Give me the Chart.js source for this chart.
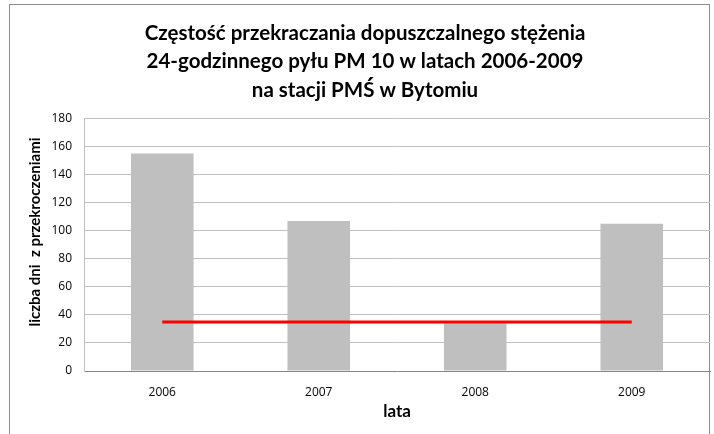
<!DOCTYPE html>
<html>
<head>
<meta charset="utf-8">
<script src="https://cdn.jsdelivr.net/npm/chart.js@4"></script>
<style>
  html, body { margin: 0; padding: 0; background: #fff; }
  #wrap { position: relative; width: 714px; height: 434px; }
  #frame { position: absolute; left: 9px; top: 4px; width: 701px; height: 440px; border: 1px solid #8c8c8c; box-sizing: border-box; }
  canvas { position: absolute; left: 0; top: 0; }
</style>
</head>
<body>
<div id="wrap">
  <div id="frame"></div>
  <canvas id="c" width="714" height="434"></canvas>
</div>
<script>
const titleLines = [
  'Częstość przekraczania dopuszczalnego stężenia',
  '24-godzinnego pyłu PM 10 w latach 2006-2009',
  'na stacji PMŚ w Bytomiu'
];
const years = ['2006', '2007', '2008', '2009'];
const exceedDays = [155, 107, 34, 105];
const limitDays = [35, 35, 35, 35];
const yTitle = '       liczba dni  z przekroczeniami';
const xTitle = 'lata';

new Chart(document.getElementById('c'), {
  data: {
    labels: years,
    datasets: [
      {
        type: 'line',
        label: 'dopuszczalna liczba dni',
        data: limitDays,
        borderColor: '#ff0000',
        borderWidth: 3,
        pointRadius: 0,
        fill: false,
        order: 0
      },
      {
        type: 'bar',
        label: 'liczba dni z przekroczeniami',
        data: exceedDays,
        backgroundColor: '#bfbfbf',
        borderWidth: 0,
        categoryPercentage: 0.4,
        barPercentage: 1.0,
        order: 1
      }
    ]
  },
  options: {
    responsive: false,
    animation: false,
    devicePixelRatio: 1,
    layout: { padding: { left: 20, right: 4, top: 0, bottom: 0 } },
    plugins: {
      legend: { display: false },
      tooltip: { enabled: false },
      title: {
        display: true,
        text: titleLines,
        color: '#000',
        font: { family: 'Lato', size: 20.5, weight: 'bold', lineHeight: 1.39 },
        padding: { top: 19, bottom: 14 }
      }
    },
    scales: {
      x: {
        offset: true,
        afterFit: (s) => { s.height = 63; },
        grid: { display: false, drawTicks: false },
        border: { display: true, color: '#868686', width: 1 },
        ticks: { color: '#000', font: { family: 'Open Sans', size: 12 }, padding: 14 },
        title: {
          display: true, text: xTitle, color: '#000',
          font: { family: 'Lato', size: 17, weight: 'bold', lineHeight: 1.2 },
          padding: { top: 0, bottom: 12 }
        }
      },
      y: {
        min: 0, max: 180,
        afterFit: (s) => { s.width = 64; },
        grid: { color: '#c0c0c0', drawTicks: false, lineWidth: 1 },
        border: { display: true, color: '#c0c0c0', width: 1 },
        ticks: { stepSize: 20, color: '#000', font: { family: 'Open Sans', size: 12 }, padding: 12 },
        title: {
          display: true, text: yTitle, color: '#000',
          font: { family: 'Lato', size: 15, weight: 'bold', lineHeight: 1.2 },
          padding: { top: 6, bottom: 0 }
        }
      }
    }
  }
});
</script>
</body>
</html>
